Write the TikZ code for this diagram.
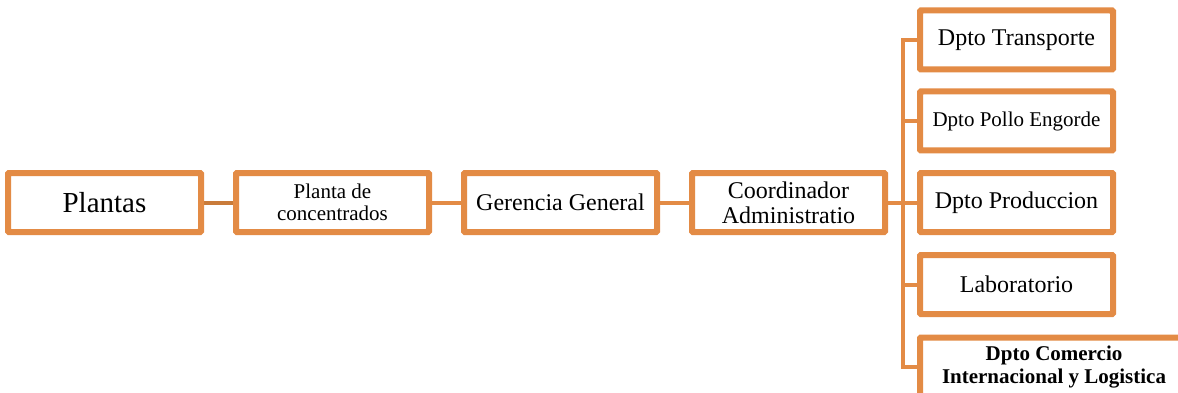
\documentclass[tikz,border=0pt]{standalone}
\usepackage{fontspec}
\setmainfont{Liberation Serif}
\usepackage{tikz}
\usetikzlibrary{calc,positioning}
\definecolor{naranja}{HTML}{E38B45}
\definecolor{naranjaosc}{HTML}{C97B3A}

\begin{document}
\begin{tikzpicture}[x=1pt,y=-1pt,node distance=228pt,line width=4pt]
	\tikzstyle{caja}=[draw=naranja,fill=white,rounded corners=1.5pt,minimum width=191pt,minimum height=57pt,align=center,inner sep=2pt]
	\tikzstyle{linea}=[draw=naranja]
	\clip (0,0) rectangle (1178,393);
	
	\node[caja,font=\fontsize{29}{32}\selectfont] (pl) at (104.5,202.5) {Plantas};
	\node[caja,font=\fontsize{21}{22}\selectfont] (pc) [right of=pl] {Planta de\\concentrados};
	\node[caja,font=\fontsize{24}{25}\selectfont] (gg) [right of=pc] {Gerencia General};
	\node[caja,font=\fontsize{24}{25}\selectfont] (ca) [right of=gg] {Coordinador\\Administratio};
	
	\node[caja,font=\fontsize{24}{25}\selectfont] (pr) [right of=ca] {Dpto Produccion};
	\node[caja,font=\fontsize{21}{22}\selectfont] (po) [above of=pr,node distance=81.5pt] {Dpto Pollo Engorde};
	\node[caja,font=\fontsize{24}{25}\selectfont] (tr) [above of=po,node distance=81pt] {Dpto Transporte};
	\node[caja,font=\fontsize{24}{25}\selectfont] (lab) [below of=pr,node distance=82pt] {Laboratorio};
	\node[caja,font=\bfseries\fontsize{21}{23}\selectfont,minimum width=266pt] (com) at ($(lab)+(37.5,82.5)$) {Dpto Comercio\\Internacional y Logistica};
	
	\coordinate (bus) at ($(ca.east)!0.5!(pr.west)$);
	
	\path[draw=naranjaosc] (pl) -- (pc);
	\path[linea] (pc) -- (gg)
	(gg) -- (ca)
	(ca) -- (pr)
	(tr.west) -- (tr.west -| bus) -- (com.west -| bus) -- (com.west)
	(po.west) -- (po.west -| bus)
	(lab.west) -- (lab.west -| bus);
	
	% cajas encima de las lineas
	\foreach \n in {pl,pc,gg,ca,pr,po,tr,lab,com}
	\draw[naranja,rounded corners=1.5pt] (\n.north west) rectangle (\n.south east);
\end{tikzpicture}
\end{document}
